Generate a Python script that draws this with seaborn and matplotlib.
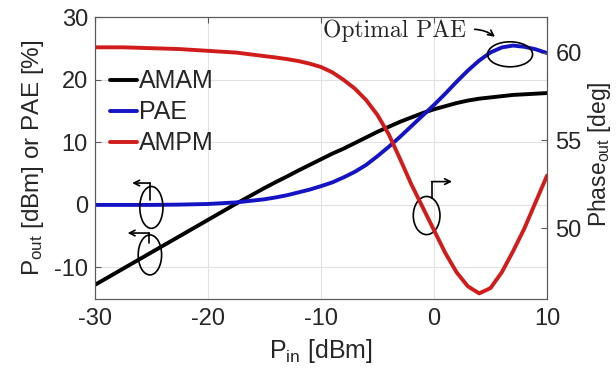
import matplotlib
matplotlib.use("Agg")
import matplotlib.pyplot as plt
import numpy as np
import pandas as pd
import seaborn as sns
from matplotlib.patches import Ellipse

# Input power sweep [dBm]
pin = [-30, -27.5, -25, -22.5, -20, -17.5, -15, -14, -13, -12, -11, -10, -9, -8,
       -7, -6, -5, -4, -3, -2, -1, 0, 1, 2, 3, 4, 5, 6, 7, 8, 9, 10]
# Output power (AM-AM) [dBm]
amam = [-12.8, -10.2, -7.6, -5.0, -2.4, 0.2, 2.7, 3.65, 4.55, 5.5, 6.4, 7.3, 8.2, 9.0,
        9.9, 10.8, 11.7, 12.5, 13.3, 14.0, 14.7, 15.3, 15.8, 16.3, 16.7, 17.0, 17.2,
        17.4, 17.6, 17.7, 17.8, 17.9]
# Power-added efficiency [%]
pae = [0.0, 0.0, 0.0, 0.05, 0.15, 0.4, 0.9, 1.2, 1.55, 2.0, 2.45, 3.0, 3.6, 4.4,
       5.3, 6.4, 7.8, 9.3, 10.9, 12.6, 14.3, 16.0, 17.8, 19.7, 21.5, 23.1, 24.4,
       25.2, 25.5, 25.3, 24.9, 24.3]
# Output phase (AM-PM) [deg]
ampm = [60.3, 60.3, 60.25, 60.2, 60.1, 60.0, 59.8, 59.72, 59.63, 59.52, 59.37, 59.18,
        58.88, 58.45, 57.95, 57.3, 56.45, 55.35, 53.95, 52.5, 51.2, 49.9, 48.6, 47.5,
        46.7, 46.3, 46.6, 47.5, 48.7, 50.0, 51.5, 53.0]

series_labels = ["AMAM", "PAE", "AMPM"]
left_yticks = [-10, 0, 10, 20, 30]
right_yticks = [50, 55, 60]
xticks = [-30, -20, -10, 0, 10]

sns.set_style("white")
plt.rcParams["font.family"] = ["Liberation Sans", "DejaVu Sans"]
plt.rcParams["mathtext.fontset"] = "custom"
plt.rcParams["mathtext.rm"] = "Liberation Sans"
plt.rcParams["mathtext.it"] = "Liberation Sans:italic"
plt.rcParams["mathtext.bf"] = "Liberation Sans:bold"
plt.rcParams["axes.unicode_minus"] = False

df = pd.DataFrame({"pin": pin, "amam": amam, "pae": pae, "ampm": ampm})

BLUE = "#1414c4"
RED = "#d11c1c"
SPINE = "#5a5a5a"
TXT = "#262626"

fig = plt.figure(figsize=(6.16, 3.71), dpi=100)
ax = fig.add_axes([0.154, 0.195, 0.734, 0.758])
ax2 = ax.twinx()

sns.lineplot(data=df, x="pin", y="amam", ax=ax, color="black", lw=2.8)
sns.lineplot(data=df, x="pin", y="pae", ax=ax, color=BLUE, lw=2.8)
sns.lineplot(data=df, x="pin", y="ampm", ax=ax2, color=RED, lw=2.8)
handles = [ax.lines[0], ax.lines[1], ax2.lines[0]]

ax.set_xlim(-30, 10)
ax.set_ylim(-15, 30)
ax2.set_ylim(46, 62)
ax.set_xticks(xticks)
ax.set_yticks(left_yticks)
ax2.set_yticks(right_yticks)

ax.grid(True, color="#e2e2e2", lw=0.8)
ax2.grid(False)
ax.set_axisbelow(True)

ax.tick_params(axis="both", direction="in", length=4, width=0.8, labelsize=17,
               colors=TXT, top=True, right=False)
ax.tick_params(axis="x", pad=7, color=SPINE)
ax.tick_params(axis="y", pad=5, color=SPINE)
ax2.tick_params(axis="y", direction="in", length=4, width=0.8, labelsize=17,
                colors=TXT, pad=6)
ax2.tick_params(axis="y", color=SPINE)
for a in (ax, ax2):
    for s in a.spines.values():
        s.set_color(SPINE)
        s.set_linewidth(0.8)

ax.set_xlabel(r"P$_{\mathrm{in}}$ [dBm]", fontsize=18, color=TXT, labelpad=5)
ax.set_ylabel(r"P$_{\mathrm{out}}$ [dBm] or PAE [%]", fontsize=17.5, color=TXT, labelpad=6)
ax2.set_ylabel(r"Phase$_{\mathrm{out}}$ [deg]", fontsize=16.5, color=TXT)
ax2.yaxis.set_label_coords(1.086, 0.515)

for a in (ax, ax2):
    if a.get_legend() is not None:
        a.get_legend().remove()
ax2.legend(handles, series_labels, loc="upper left", bbox_to_anchor=(0.033, 0.815),
           frameon=False, fontsize=18, handlelength=1.1, handletextpad=0.05,
           labelspacing=0.28, borderpad=0, borderaxespad=0)

# Curve markers: ellipses with bent arrows pointing to the axis they belong to
ek = dict(fill=False, ec="black", lw=1.2, zorder=4)
ak = dict(arrowstyle="->", lw=1.2, color="black", shrinkA=0, shrinkB=0, mutation_scale=10)

ax.add_patch(Ellipse((-25.0, -0.4), 2.05, 6.7, **ek))
ax.plot([-25.13, -25.13], [0.8, 3.5], color="black", lw=1.2, zorder=4)
ax.annotate("", xy=(-26.7, 3.5), xytext=(-25.13, 3.5), arrowprops=ak)

ax.add_patch(Ellipse((-25.13, -8.0), 2.07, 6.4, **ek))
ax.plot([-25.2, -25.2], [-6.1, -4.5], color="black", lw=1.2, zorder=4)
ax.annotate("", xy=(-27.1, -4.5), xytext=(-25.2, -4.5), arrowprops=ak)

ax.add_patch(Ellipse((-0.65, -1.7), 2.36, 6.1, **ek))
ax.plot([-0.21, -0.21], [1.07, 3.73], color="black", lw=1.2, zorder=4)
ax.annotate("", xy=(1.6, 3.73), xytext=(-0.21, 3.73), arrowprops=ak)

ax.add_patch(Ellipse((6.73, 24.1), 3.98, 4.0, **ek))
ax.text(-9.82, 26.9, "Optimal PAE", family="cmr10", fontsize=17, va="baseline", color=TXT)
ax.annotate("", xy=(5.4, 26.9), xytext=(3.6, 28.1),
            arrowprops=dict(arrowstyle="->", lw=1.2, color="black", shrinkA=0, shrinkB=0,
                            mutation_scale=10, connectionstyle="arc3,rad=-0.15"))

fig.savefig("out.png", dpi=100)
